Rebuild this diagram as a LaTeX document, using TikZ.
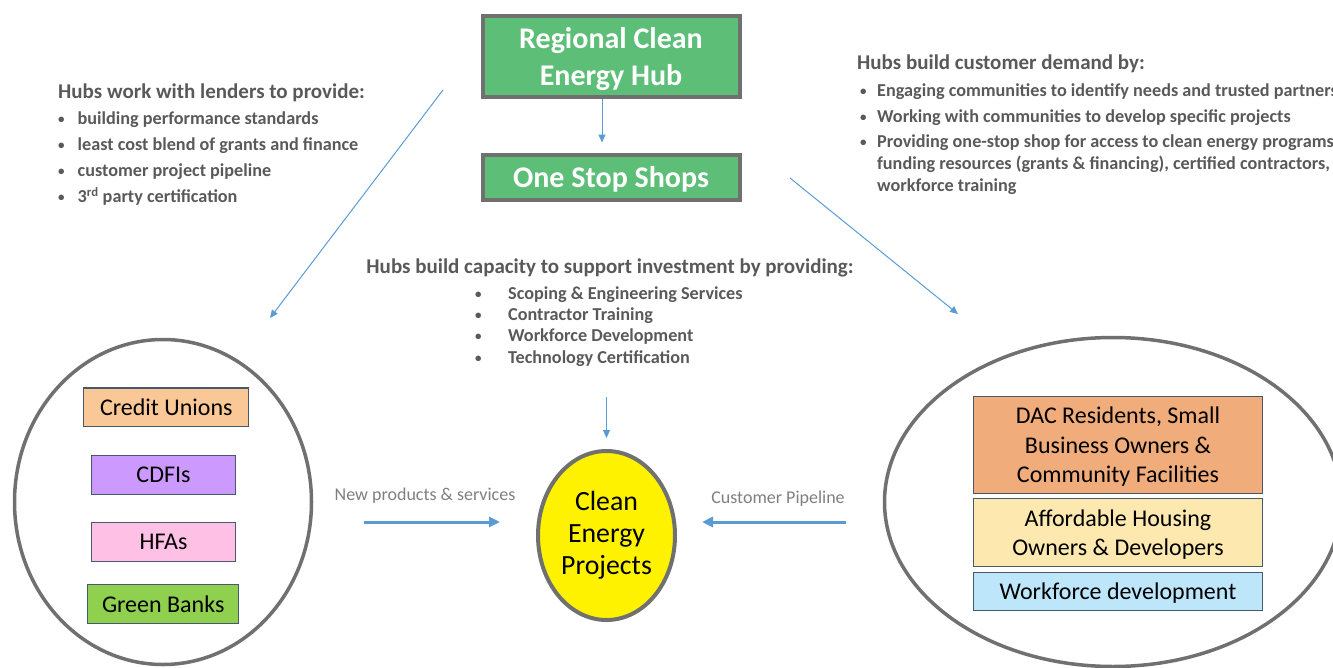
\documentclass[tikz,border=0pt]{standalone}
\usepackage{fontspec}
\setmainfont{Carlito}
\usetikzlibrary{arrows.meta,shapes.geometric}

\definecolor{hubgreen}{RGB}{93,190,119}
\definecolor{boxgray}{RGB}{112,112,112}
\definecolor{txtgray}{RGB}{89,89,89}
\definecolor{lblgray}{RGB}{127,127,127}
\definecolor{arrblue}{RGB}{91,155,213}
\definecolor{slate}{RGB}{72,88,112}
\definecolor{cupeach}{RGB}{249,200,150}
\definecolor{cdfililac}{RGB}{204,153,255}
\definecolor{hfapink}{RGB}{255,192,230}
\definecolor{bankgreen}{RGB}{143,208,79}
\definecolor{dacorange}{RGB}{240,173,123}
\definecolor{houseyellow}{RGB}{253,233,176}
\definecolor{wfblue}{RGB}{189,230,250}

% bullet with hanging text
\newcommand{\bitem}[2]{\makebox[#1][l]{\raisebox{1pt}{\fontsize{13}{13}\selectfont\textbullet}}%
  \begin{tabular}[t]{@{}l@{}}#2\end{tabular}}

\begin{document}
\begin{tikzpicture}[x=1pt,y=-1pt,>={Triangle[length=8pt,width=7pt]},
  hubbox/.style={draw=boxgray,line width=4pt,fill=hubgreen,text=white,align=center,
    font=\fontsize{30}{36.7}\selectfont\bfseries,minimum width=257pt,text depth=0pt},
  group/.style={draw=boxgray,line width=3.5pt,ellipse,inner sep=0pt},
  lender/.style={draw=slate,line width=1.2pt,inner sep=0pt,minimum height=38.8pt,
    font=\fontsize{24}{29}\selectfont},
  custbox/.style={draw=slate,line width=1.2pt,inner sep=0pt,minimum width=289.5pt,
    align=center,font=\fontsize{24}{29.3}\selectfont,text depth=0pt},
  note/.style={text=txtgray,anchor=base west,inner sep=0pt,
    font=\fontsize{18.2}{22}\selectfont\bfseries},
  head/.style={note,font=\fontsize{21}{24}\selectfont\bfseries},
  lbl/.style={text=lblgray,anchor=base,inner sep=0pt,font=\fontsize{18}{20}\selectfont},
  flow/.style={->,arrblue,line width=1pt},
  bigflow/.style={arrblue,line width=3pt,-{Triangle[length=11pt,width=10pt]}}]
  \useasboundingbox (0,0) rectangle (1333,667);

  % hub and one stop shops
  \node[hubbox,minimum height=81pt] (hub) at (611,56.5) {Regional Clean\\Energy Hub};
  \node[hubbox,minimum height=45pt] (shops) at (611,177) {One Stop Shops};
  \draw[flow,shorten >=10pt] ([xshift=-9pt]hub.south) -- ([xshift=-9pt]shops.north);

  % lenders text
  \node[head] (lendhead) at (58,98) {Hubs work with lenders to provide:};
  \foreach \t [count=\i] in {building performance standards,
      least cost blend of grants and finance, customer project pipeline,
      3\textsuperscript{rd} party certification}
    \node[note] (lend\i) at (58,{98+26.2*\i}) {\bitem{19.5pt}{\t}};

  % customer demand text
  \node[head] (demhead) at (857,69.5) {Hubs build customer demand by:};
  \foreach \t [count=\i] in {{Engaging communities to identify needs and trusted partners},
      {Working with communities to develop specific projects},
      {Providing one-stop shop for access to clean energy programs,\\
       funding resources (grants \& financing), certified contractors,\\
       workforce training}}
    \node[note] (dem\i) at (860,{71.4+25.3*\i}) {\bitem{17pt}{\t}};

  % capacity text
  \node[head,anchor=base] (caphead) at (610,273.3) {Hubs build capacity to support investment by providing:};
  \foreach \t [count=\i] in {Scoping \& Engineering Services, Contractor Training,
      Workforce Development, Technology Certification}
    \node[note] (cap\i) at (475,{278+21.3*\i}) {\bitem{33pt}{\t}};

  % lenders
  \node[group,minimum width=297pt,minimum height=325pt] (lenders) at (163,502) {};
  \node[lender,fill=cupeach,minimum width=165pt] (cu) at (166.3,407.3) {Credit Unions};
  \node[lender,fill=cdfililac,minimum width=144pt] (cdfi) at (163.5,475) {CDFIs};
  \node[lender,fill=hfapink,minimum width=144pt] (hfa) at (163.5,542) {HFAs};
  \node[lender,fill=bankgreen,minimum width=151pt] (bank) at (163.2,604) {Green Banks};

  % customers
  \node[group,minimum width=457pt,minimum height=329pt] (customers) at (1113,502) {};
  \node[custbox,fill=dacorange,minimum height=97pt] (dac) at (1118,444.8)
    {DAC Residents, Small\\Business Owners \&\\Community Facilities};
  \node[custbox,fill=houseyellow,minimum height=68pt] (house) at (1118,532.8)
    {Affordable Housing\\Owners \& Developers};
  \node[custbox,fill=wfblue,minimum height=38pt] (wf) at (1118,591.3) {Workforce development};

  % projects
  \node[draw=boxgray,line width=4pt,fill=yellow,ellipse,inner sep=0pt,
    minimum width=137pt,minimum height=169pt,align=center,
    font=\fontsize{27.8}{32}\selectfont] (proj) at (606.5,535.5) {Clean\\Energy\\Projects};

  % arrows
  \coordinate (lendtail) at (443,90);
  \coordinate (lendtip) at (270,318);
  \draw[flow] (lendtail) -- (lendtip);
  \coordinate (demtail) at (790,178);
  \coordinate (demtip) at (958,314);
  \draw[flow] (demtail) -- (demtip);
  \coordinate (captail) at (606.5,397);
  \draw[flow,shorten >=11pt] (captail) -- (proj);

  \coordinate (newtail) at (364,522);
  \coordinate (newtip) at (500,522);
  \draw[bigflow] (newtail) -- (newtip);
  \node[lbl] (newlbl) at (425,500) {New products \& services};
  \coordinate (pipetail) at (846,522);
  \coordinate (pipetip) at (702,522);
  \draw[bigflow] (pipetail) -- (pipetip);
  \node[lbl] (pipelbl) at (778,503) {Customer Pipeline};
\end{tikzpicture}
\end{document}
